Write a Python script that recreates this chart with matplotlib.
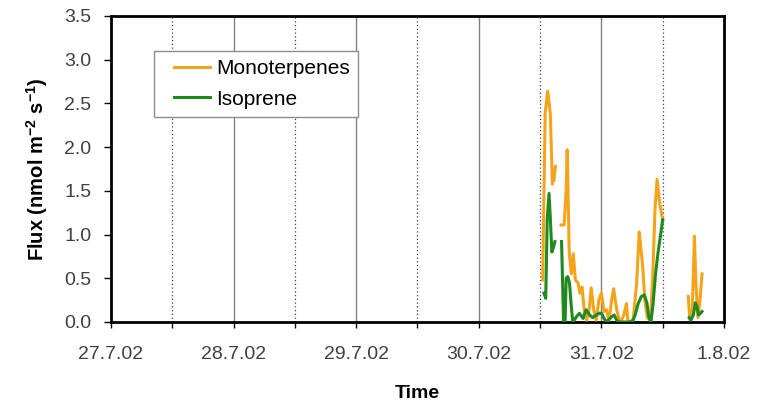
import numpy as np
import matplotlib
matplotlib.use('Agg')
import matplotlib.pyplot as plt
import matplotlib.dates as mdates
from matplotlib.lines import Line2D
from matplotlib.legend_handler import HandlerLine2D
from matplotlib.ticker import FormatStrFormatter, FuncFormatter

plt.rcParams['font.family'] = ['Liberation Sans', 'DejaVu Sans']
plt.rcParams['mathtext.fontset'] = 'custom'
plt.rcParams['mathtext.rm'] = 'Liberation Sans'
plt.rcParams['mathtext.bf'] = 'Liberation Sans:bold'
plt.rcParams['mathtext.default'] = 'bf'

nan = np.nan
# hours after 30.7.02 12:00, nan = gap in the record
mono_hours = [0.5, 1.0, 1.5, 2.0, 2.4, 2.55, 2.7, 3.0, 3.6,
              4.1, 4.7, 5.1, 5.3, 5.7, 6.1, 6.5, 6.9, 7.4, 7.8, 8.2, 8.7, 9.1,
              9.6, 10.0, 10.5, 11.0, 11.5, 12.0, 12.5, 13.0, 13.5, 14.0, 14.4,
              15.0, 15.5, 16.0, 16.4, 16.9, 17.2, 17.7, 18.2, 18.9, 19.4, 19.8,
              20.1, 20.5, 21.0, 21.6, 22.0, 22.5, 22.9, 23.4, 24.0, 26.5,
              29.0, 29.3, 29.8, 30.2, 30.5, 30.9, 31.3, 31.7]
mono_flux = [0.48, 2.40, 2.64, 2.38, 1.58, nan, 1.62, 1.78, nan,
             1.11, 1.11, 1.50, 1.97, 0.80, 0.55, 0.78, 0.48, 0.45, 0.33, 0.40, 0.10, 0.02,
             0.14, 0.39, 0.14, 0.02, 0.25, 0.33, 0.12, 0.14, 0.02, 0.25, 0.38,
             0.14, 0.02, 0.03, 0.08, 0.21, 0.00, 0.00, 0.02, 0.44, 1.03, 0.80,
             0.62, 0.25, 0.05, 0.02, 0.45, 1.30, 1.63, 1.36, 1.17, nan,
             0.29, 0.03, 0.15, 0.98, 0.45, 0.05, 0.25, 0.55]

iso_hours = [0.75, 1.1, 1.4, 1.75, 2.0, 2.3, 2.6, 2.9, 3.5,
             4.2, 4.6, 4.9, 5.1, 5.4, 5.75, 6.1, 6.4, 6.8, 7.1, 7.7, 8.4, 9.0,
             9.7, 10.3, 11.0, 11.6, 12.0, 12.5, 13.0, 13.5, 14.0, 14.5, 15.0,
             15.5, 16.5, 17.5, 18.2, 18.6, 19.2, 19.8, 20.4, 20.9, 21.3, 21.7,
             22.1, 22.6, 23.1, 23.6, 24.0, 26.5,
             29.2, 29.5, 30.0, 30.4, 30.7, 31.0, 31.4, 31.7]
iso_flux = [0.33, 0.27, 1.19, 1.47, 1.19, 0.80, 0.85, 0.92, nan,
            0.92, 0.00, 0.00, 0.50, 0.52, 0.45, 0.18, 0.00, 0.03, 0.06, 0.10, 0.04, 0.14,
            0.08, 0.05, 0.08, 0.10, 0.10, 0.04, 0.00, 0.03, 0.06, 0.08, 0.02,
            0.00, 0.00, 0.00, 0.02, 0.08, 0.21, 0.29, 0.31, 0.22, 0.05, 0.00,
            0.20, 0.55, 0.80, 1.00, 1.17, nan,
            0.05, 0.02, 0.08, 0.22, 0.18, 0.08, 0.10, 0.12]

start = np.datetime64('2002-07-30T12:00')
y_ticks = [0.0, 0.5, 1.0, 1.5, 2.0, 2.5, 3.0, 3.5]


def to_time(hours):
    mins = np.round(np.array(hours) * 60).astype(int)
    return start + mins.astype('timedelta64[m]')


def day_label(v, pos):
    d = mdates.num2date(v)
    return f"{d.day}.{d.month}.{d:%y}"


fig = plt.figure(figsize=(7.69, 4.05), dpi=100)
ax = fig.add_axes([0.1443, 0.205, 0.7972, 0.7555])

ax.plot(to_time(mono_hours), mono_flux, color='#F5A31A', lw=2.2, label='Monoterpenes', zorder=3)
ax.plot(to_time(iso_hours), iso_flux, color='#1F8A1F', lw=2.2, label='Isoprene', zorder=3)

ax.set_xlim(np.datetime64('2002-07-27'), np.datetime64('2002-08-01'))
ax.set_ylim(0, 3.5)
ax.set_yticks(y_ticks)
ax.yaxis.set_major_formatter(FormatStrFormatter('%.1f'))
ax.xaxis.set_major_locator(mdates.DayLocator())
ax.xaxis.set_minor_locator(mdates.HourLocator(byhour=[12]))
ax.xaxis.set_major_formatter(FuncFormatter(day_label))

# full days solid, noons dotted
ax.grid(which='major', axis='x', color='#808080', lw=1.0)
ax.grid(which='minor', axis='x', color='#404040', lw=0.9, ls=(0, (1, 2)))
ax.grid(which='major', axis='y', visible=False)

for s in ax.spines.values():
    s.set_linewidth(2.0)
    s.set_color('black')

ax.tick_params(axis='x', which='both', direction='out', length=4, width=1,
               pad=13, labelsize=14, labelcolor='#404040')
ax.tick_params(axis='y', direction='out', length=5, width=1,
               pad=9, labelsize=14, labelcolor='#404040')

ax.set_xlabel('Time', fontsize=14, fontweight='bold')
ax.xaxis.set_label_coords(0.5, -0.205)
ax.set_ylabel(r'Flux (nmol m$^{-2}$ s$^{-1}$)', fontsize=14.5, fontweight='bold')
ax.yaxis.set_label_coords(-0.1, 0.5)

leg = ax.legend(loc='upper left', bbox_to_anchor=(0.070, 0.886), frameon=True,
                fancybox=False, edgecolor='#8c8c8c', framealpha=1, fontsize=15,
                handlelength=2.3, handletextpad=0.3, borderpad=0.4,
                labelspacing=0.55, borderaxespad=0,
                handler_map={Line2D: HandlerLine2D(xpad=0.55)})
leg.get_frame().set_linewidth(1.0)

fig.savefig('out.png', dpi=100)
